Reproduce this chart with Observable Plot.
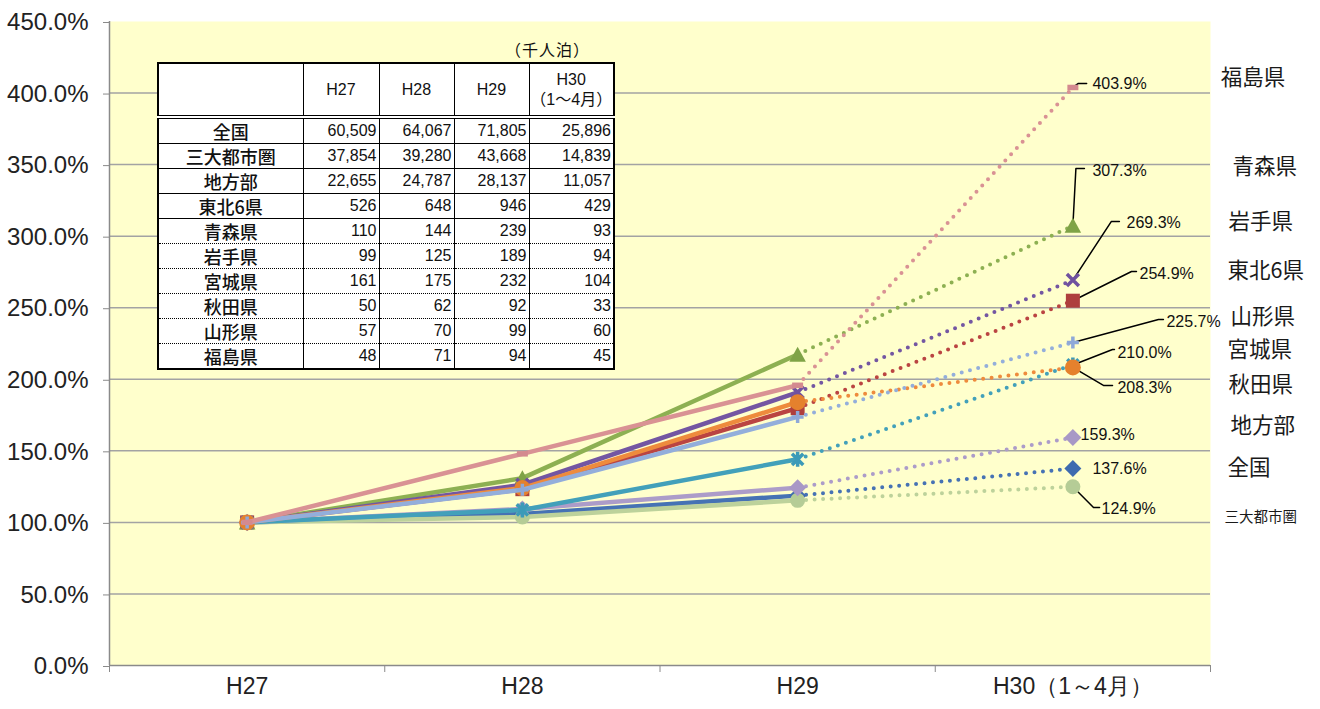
<!DOCTYPE html>
<html><head><meta charset="utf-8">
<script src="https://cdn.jsdelivr.net/npm/d3@7"></script>
<script src="https://cdn.jsdelivr.net/npm/@observablehq/plot@0.6"></script>
<style>
body{margin:0;background:#fff;}
#wrap{position:relative;width:1320px;height:709px;overflow:hidden;}
#unit{position:absolute;left:505px;top:37px;font:16px "Noto Sans CJK JP",sans-serif;color:#111;letter-spacing:1px;}
#tbl{position:absolute;left:157px;top:62px;border-collapse:collapse;background:#fff;border:2px solid #000;table-layout:fixed;width:456px;
 font-family:"Liberation Sans","Noto Sans CJK JP",sans-serif;font-size:16px;color:#111;}
#tbl td{padding:0 2px 0 0;border-left:1px solid #000;border-right:1px solid #000;height:24px;line-height:18px;text-align:right;}
#tbl td.nm{text-align:center;font-family:"Noto Sans CJK JP",sans-serif;font-size:18px;font-weight:500;padding:0;}
#tbl tr.hd td{height:51px;text-align:center;border-bottom:4px double #000;line-height:20px;padding:0;}
#tbl tr.solid td{border-bottom:1px solid #000;}
#tbl tr.dot td{border-bottom:1px dotted #000;}
</style></head><body><div id="wrap"></div>
<script>
// ---- data ----
const categories = ["H27", "H28", "H29", "H30（1～4月）"];
const seriesNames = ["全国", "三大都市圏", "地方部", "東北6県", "青森県", "岩手県", "宮城県", "秋田県", "山形県", "福島県"];
const idxZenkoku   = [100, 105.9, 118.7, 137.6];
const idxSandai    = [100, 103.8, 115.4, 124.9];
const idxChiho     = [100, 109.4, 124.2, 159.3];
const idxTohoku    = [100, 123.2, 179.8, 254.9];
const idxAomori    = [100, 130.9, 217.3, 307.3];
const idxIwate     = [100, 126.3, 190.9, 269.3];
const idxMiyagi    = [100, 108.7, 144.1, 210.0];
const idxAkita     = [100, 124.0, 184.0, 208.3];
const idxYamagata  = [100, 122.8, 173.7, 225.7];
const idxFukushima = [100, 147.9, 195.8, 403.9];
const yTicks = [0, 50, 100, 150, 200, 250, 300, 350, 400, 450];

// table (千人泊)
const tableHeader = ["H27", "H28", "H29", "H30\n（1～4月）"];
const tblZenkoku   = ["60,509", "64,067", "71,805", "25,896"];
const tblSandai    = ["37,854", "39,280", "43,668", "14,839"];
const tblChiho     = ["22,655", "24,787", "28,137", "11,057"];
const tblTohoku    = ["526", "648", "946", "429"];
const tblAomori    = ["110", "144", "239", "93"];
const tblIwate     = ["99", "125", "189", "94"];
const tblMiyagi    = ["161", "175", "232", "104"];
const tblAkita     = ["50", "62", "92", "33"];
const tblYamagata  = ["57", "70", "99", "60"];
const tblFukushima = ["48", "71", "94", "45"];

// ---- styles / annotation positions (data units) ----
const lineColors   = ["#4672B4", "#BDD29B", "#AC9CC9", "#BA4442", "#8DB052", "#7356A2", "#42A0BA", "#EE8B3D", "#93AEDB", "#D99294"];
const markerColors = ["#3F6BAF", "#B5CC96", "#A898C6", "#AE3F3D", "#7FA346", "#6F519F", "#3C9AB8", "#E5812D", "#8EA8D8", "#D48A8F"];
const valueLabelX = [3.071, 3.104, 3.028, 3.242, 3.071, 3.195, 3.162, 3.162, 3.340, 3.071];
const valueLabelY = [137.7, 109.7, 161.4, 273.9, 345.9, 309.6, 218.7, 194.3, 240.4, 406.7];
const leaderElbowX = [null, 3.075, null, 3.213, 3.011, 3.140, 3.144, 3.111, 3.311, 3.020];
const leaderElbowY = [null, 110.4, null, 275.3, 347.3, 310.3, 220.8, 195.7, 241.8, 406.7];
const leaderEndX   = [null, 3.097, null, 3.231, 3.042, 3.169, 3.151, 3.144, 3.329, 3.050];
const nameLabelX = [3.562, 3.551, 3.573, 3.562, 3.580, 3.565, 3.562, 3.565, 3.573, 3.537];
const nameLabelY = [137.7, 103.4, 167.0, 275.3, 348.0, 309.6, 220.1, 195.7, 243.2, 410.2];

const seriesValues = [idxZenkoku, idxSandai, idxChiho, idxTohoku, idxAomori, idxIwate, idxMiyagi, idxAkita, idxYamagata, idxFukushima];
const tableRows = [tblZenkoku, tblSandai, tblChiho, tblTohoku, tblAomori, tblIwate, tblMiyagi, tblAkita, tblYamagata, tblFukushima];

// ---- symbols ----
function sym(fn){return {draw(c, size){const r = Math.sqrt(size/Math.PI); fn(c, r);}};}
const symDiamond = sym((c,r)=>{c.moveTo(0,-r);c.lineTo(r,0);c.lineTo(0,r);c.lineTo(-r,0);c.closePath();});
const symCircle = sym((c,r)=>{c.moveTo(r,0);c.arc(0,0,r,0,2*Math.PI);c.closePath();});
const symSquare = sym((c,r)=>{c.rect(-r,-r,2*r,2*r);});
const symTriangle = sym((c,r)=>{c.moveTo(0,-r*1.05);c.lineTo(r*1.1,r*0.95);c.lineTo(-r*1.1,r*0.95);c.closePath();});
const symTimes = sym((c,r)=>{c.moveTo(-r,-r);c.lineTo(r,r);c.moveTo(r,-r);c.lineTo(-r,r);});
const symPlus = sym((c,r)=>{c.moveTo(-r,0);c.lineTo(r,0);c.moveTo(0,-r);c.lineTo(0,r);});
const symStar = sym((c,r)=>{const a=r*0.75;c.moveTo(-a,-a);c.lineTo(a,a);c.moveTo(a,-a);c.lineTo(-a,a);c.moveTo(0,-r);c.lineTo(0,r);});
const symDash = sym((c,r)=>{c.rect(-r,-r*0.5,2*r,r);});
const markerSpec = [
  {s: symDiamond, r: 8.5, filled: true},
  {s: symCircle, r: 7.5, filled: true},
  {s: symDiamond, r: 8.5, filled: true},
  {s: symSquare, r: 7, filled: true},
  {s: symTriangle, r: 7.5, filled: true},
  {s: symTimes, r: 6, filled: false},
  {s: symStar, r: 7.5, filled: false},
  {s: symCircle, r: 8, filled: true},
  {s: symPlus, r: 6, filled: false},
  {s: symDash, r: 5.5, filled: true}
];

// ---- build plot ----
const FONT = '"Liberation Sans", Arial, sans-serif';
const JP = '"Noto Sans CJK JP", sans-serif';
const marks = [
  Plot.frame({fill: "#FFFFCC", stroke: "none"}),
  Plot.ruleY(yTicks.filter(d => d > 0 && d < 450), {stroke: "#A3A3A3", strokeWidth: 1.5}),
  Plot.ruleX([-0.5], {stroke: "#8A8A8A", strokeWidth: 1.5}),
  Plot.ruleY([0], {stroke: "#8A8A8A", strokeWidth: 1.5}),
  Plot.axisY(yTicks, {tickSize: 6, tickPadding: 15, tickFormat: d => d.toFixed(1) + "%", fontSize: 24, fontFamily: FONT, stroke: "#8A8A8A", fill: "#222", dy: 1}),
  Plot.axisX([-0.5, 0.5, 1.5, 2.5, 3.5], {tickSize: 7, tickFormat: () => "", stroke: "#8A8A8A"}),
  Plot.text(categories, {x: (d, i) => i, text: d => d, frameAnchor: "bottom", dy: 28, fontSize: 23, fontFamily: FONT, fill: "#222"})
];
// leader lines
seriesValues.forEach((v, k) => {
  if (leaderElbowX[k] == null) return;
  const pts = [[3, v[3]], [leaderElbowX[k], leaderElbowY[k]], [leaderEndX[k], leaderElbowY[k]]];
  marks.push(Plot.line(pts, {x: d => d[0], y: d => d[1], stroke: "#000", strokeWidth: 1.5}));
});
// series
seriesValues.forEach((v, k) => {
  const ids = [0, 1, 2, 3];
  marks.push(Plot.line(ids.slice(0, 3), {x: i => i, y: i => v[i], stroke: lineColors[k], strokeWidth: 4.5, strokeLinejoin: "round", strokeLinecap: "round"}));
  marks.push(Plot.line(ids.slice(2), {x: i => i, y: i => v[i], stroke: lineColors[k], strokeWidth: 4, strokeDasharray: "0 8.5", strokeLinecap: "round"}));
  const m = markerSpec[k];
  marks.push(Plot.dot(ids, {x: i => i, y: i => v[i], symbol: m.s, r: m.r,
    fill: m.filled ? markerColors[k] : "none", stroke: m.filled ? "none" : markerColors[k], strokeWidth: m.filled ? 0 : 3.5}));
});
// value labels
marks.push(Plot.text(seriesValues, {x: (d, k) => valueLabelX[k], y: (d, k) => valueLabelY[k], text: d => d[3].toFixed(1) + "%",
  textAnchor: "start", fontSize: 16, fontFamily: FONT, fill: "#111"}));
// series name labels
marks.push(Plot.text(seriesNames, {x: (d, k) => nameLabelX[k], y: (d, k) => nameLabelY[k], text: d => d,
  textAnchor: "start", fontSize: (d) => d === "三大都市圏" ? 14.5 : 21.5, fontFamily: JP, fill: "#1a1a1a"}));

const chart = Plot.plot({
  width: 1320, height: 709,
  marginLeft: 109, marginRight: 110, marginTop: 21, marginBottom: 44,
  style: {background: "transparent", overflow: "visible"},
  x: {type: "linear", domain: [-0.5, 3.5], axis: null},
  y: {type: "linear", domain: [0, 450], axis: null},
  marks
});
const wrap = document.getElementById("wrap");
wrap.appendChild(chart);

// ---- table overlay ----
const unit = document.createElement("div");
unit.id = "unit"; unit.textContent = "（千人泊）";
wrap.appendChild(unit);
const tbl = document.createElement("table");
tbl.id = "tbl";
const cg = document.createElement("colgroup");
[145, 76, 75, 75, 85].forEach(w => { const c = document.createElement("col"); c.style.width = w + "px"; cg.appendChild(c); });
tbl.appendChild(cg);
const hr = document.createElement("tr"); hr.className = "hd";
hr.appendChild(document.createElement("td"));
tableHeader.forEach(h => { const td = document.createElement("td"); td.innerHTML = h.split("\n").join("<br>"); hr.appendChild(td); });
tbl.appendChild(hr);
tableRows.forEach((row, k) => {
  const tr = document.createElement("tr");
  tr.className = (k < 4 || k === tableRows.length - 1) ? "solid" : "dot";
  const nm = document.createElement("td"); nm.className = "nm"; nm.textContent = seriesNames[k]; tr.appendChild(nm);
  row.forEach(val => { const td = document.createElement("td"); td.textContent = val; tr.appendChild(td); });
  tbl.appendChild(tr);
});
wrap.appendChild(tbl);
</script></body></html>
